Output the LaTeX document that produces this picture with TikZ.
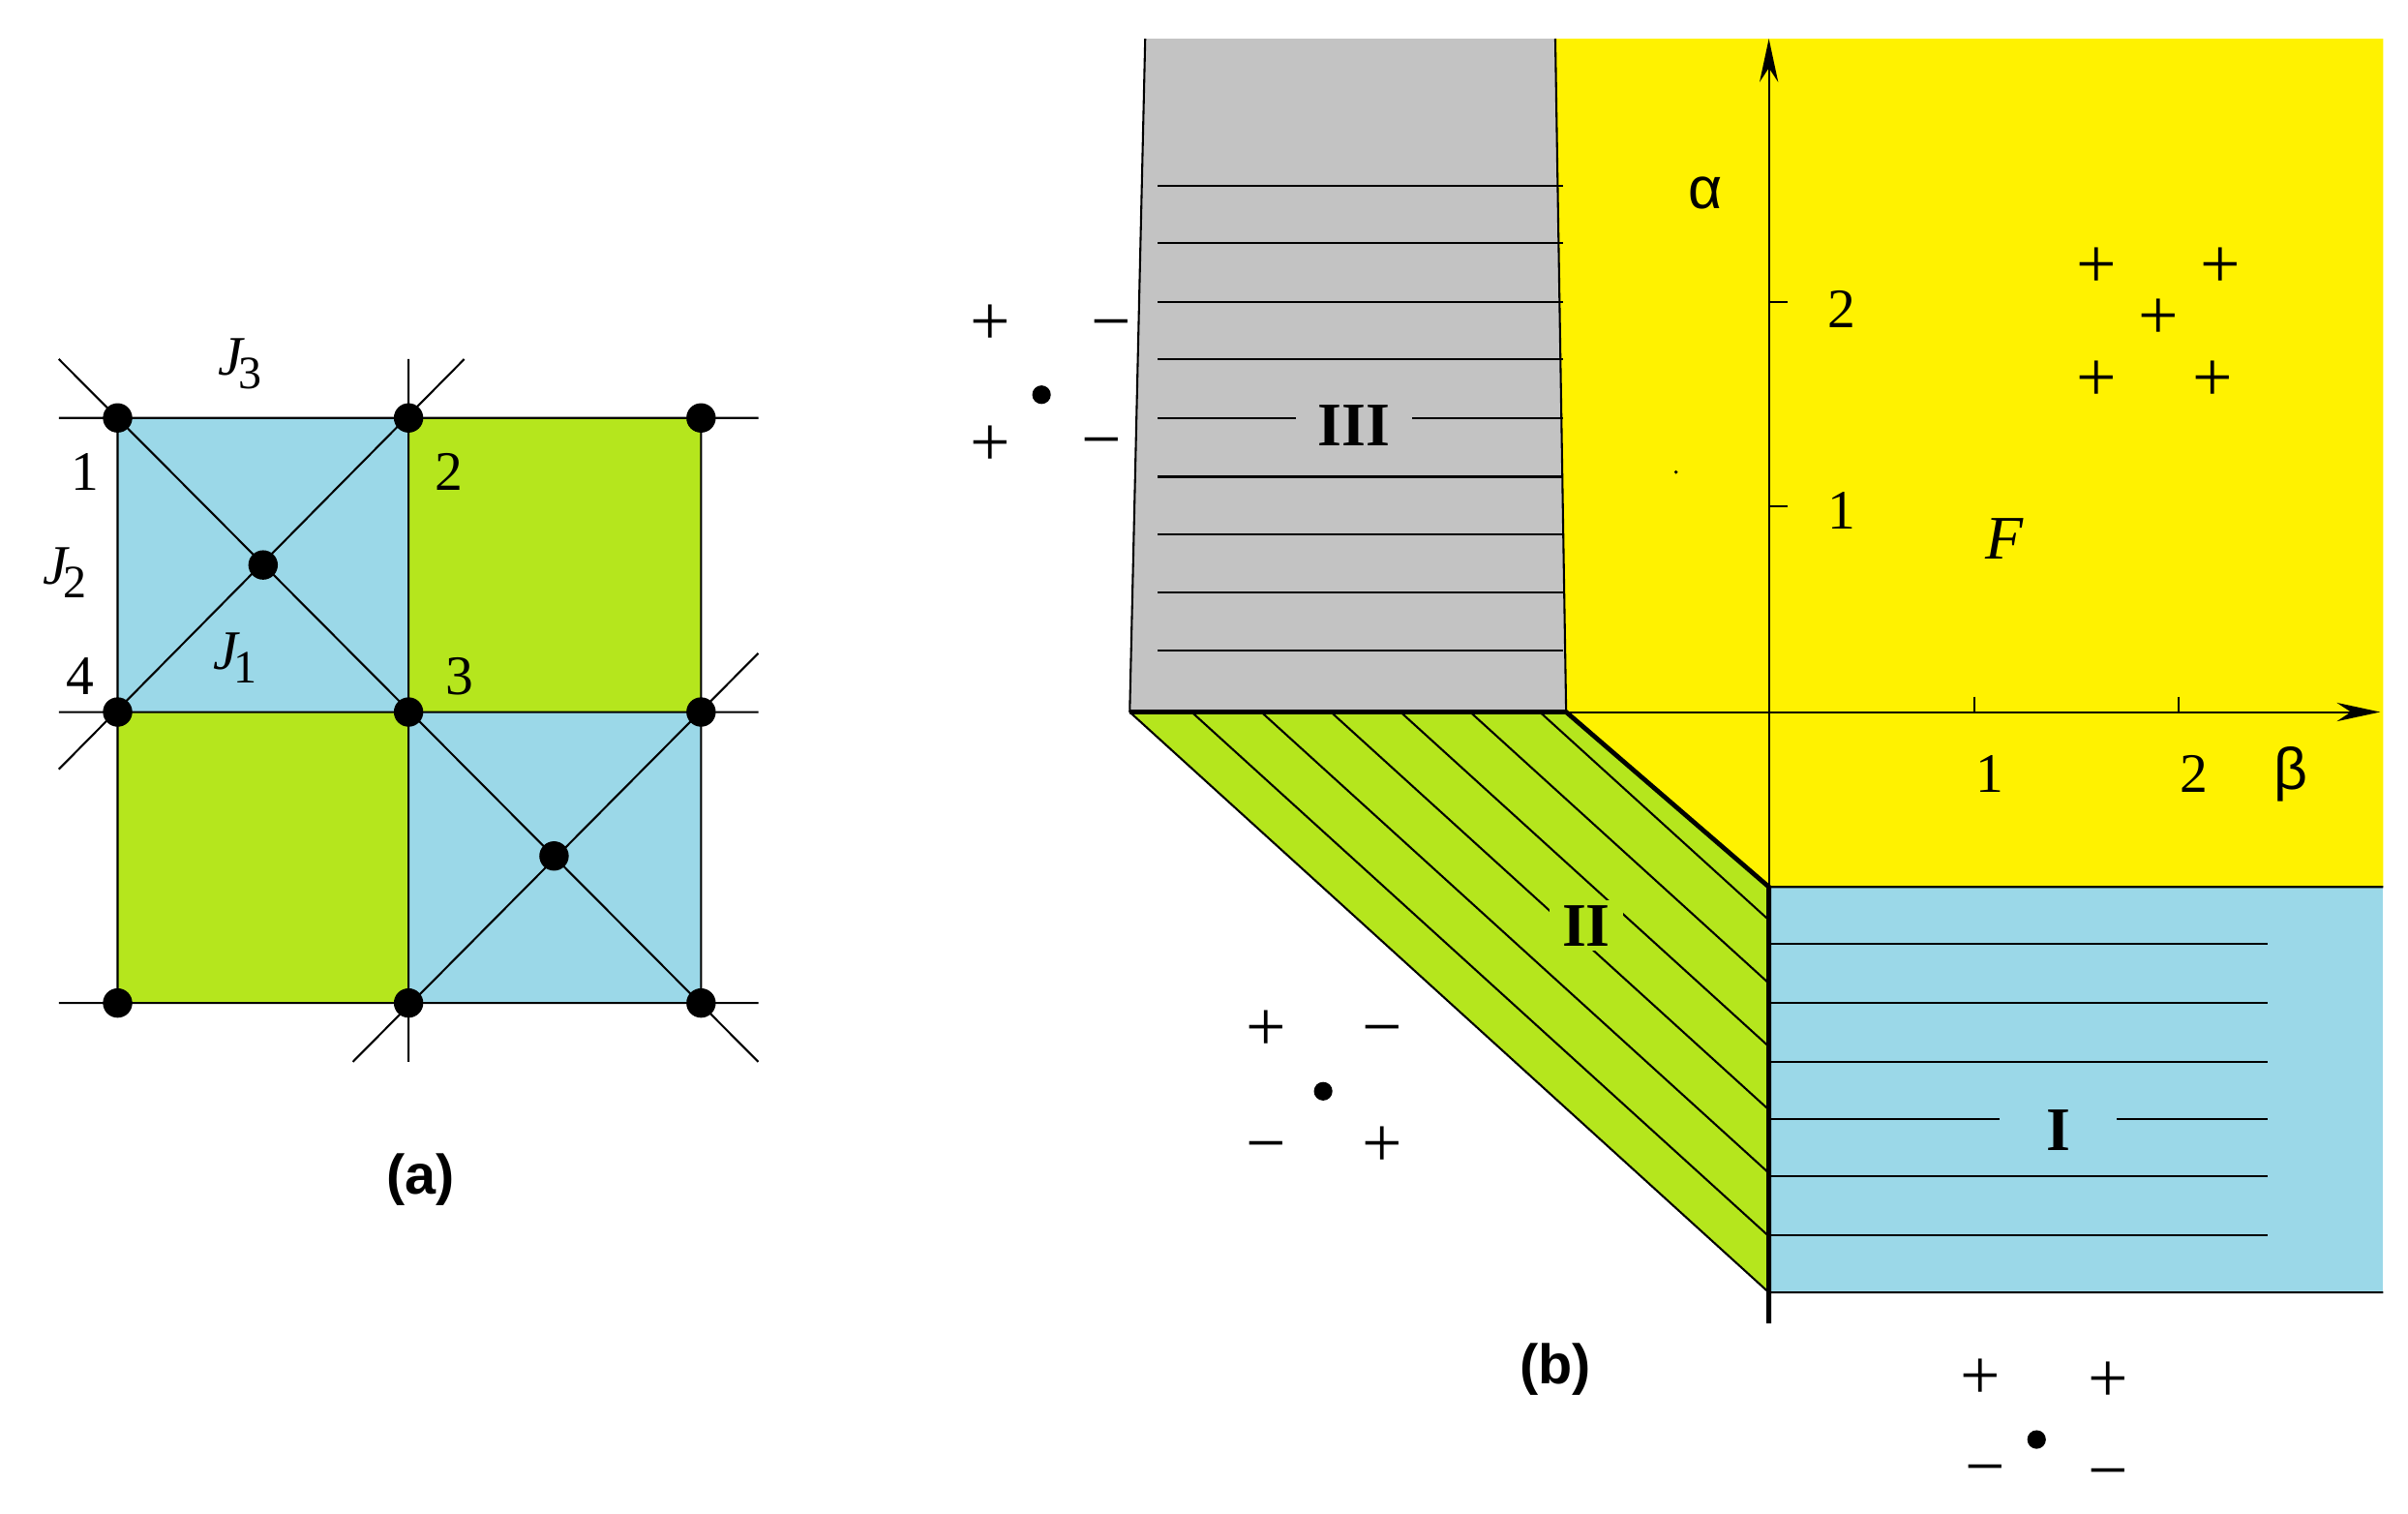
\documentclass[tikz,border=0pt]{standalone}
\usepackage{fontspec}
\usetikzlibrary{arrows.meta}
\setmainfont{Liberation Serif}
\newfontfamily\sff{Liberation Sans}
\newcommand{\Jsub}[1]{{\itshape J}\kern-3pt\raisebox{-9pt}{\fontsize{30}{32}\selectfont #1}}
\begin{document}
\begin{tikzpicture}[x=1pt,y=-1pt,
 lab/.style={font=\fontsize{36}{38}\selectfont,inner sep=0},
 pm/.style={font=\fontsize{46}{48}\selectfont,inner sep=0,text height=22pt,text depth=-4pt},
 big/.style={font=\fontsize{40}{42}\selectfont\bfseries,inner sep=3,fill=#1},
 sub/.style={font=\sff\fontsize{36}{38}\selectfont\bfseries,inner sep=0},
 dot/.style={circle,fill=black,inner sep=0,minimum size=19},
 sdot/.style={circle,fill=black,inner sep=0,minimum size=12},
 thin/.style={line width=1.3},
 thick2/.style={line width=3},
 ax/.style={thin,-{Stealth[length=28,width=12]}}]
\useasboundingbox (0,0) rectangle (1556,978);
\definecolor{cb}{RGB}{155,216,232}\definecolor{cg}{RGB}{181,230,29}
\definecolor{cy}{RGB}{255,242,0}\definecolor{cgr}{RGB}{195,195,195}
% panel a
\fill[cb] (76,270) rectangle (264,460); \fill[cb] (264,460) rectangle (453,648);
\fill[cg] (264,270) rectangle (453,460); \fill[cg] (76,460) rectangle (264,648);
\draw[thin] (38,270)--(490,270) (38,460)--(490,460) (38,648)--(490,648)
 (76,270)--(76,648) (264,232)--(264,686) (453,270)--(453,648)
 (38,232)--(490,686) (300,232)--(38,497) (490,422)--(228,686);
\foreach \x in {76,264,453}\foreach \y in {270,460,648}\node[dot] at (\x,\y){};
\node[dot] at (170,365){}; \node[dot] at (358,553){};
\node[lab] at (155,235){\Jsub{3}}; \node[lab] at (55,305){1};
\node[lab] at (42,370){\Jsub{2}}; \node[lab] at (52,437){4};
\node[lab] at (152,425){\Jsub{1}}; \node[lab] at (290,305){2}; \node[lab] at (297,437){3};
\node[sub] at (272,762){(a)};
% panel b regions
\fill[cy] (1005,25)--(1540,25)--(1540,573)--(1143,573)--(1012,460)--cycle;
\fill[cgr] (740,25)--(1005,25)--(1012,460)--(730,460)--cycle;
\fill[cg] (730,460)--(1012,460)--(1143,573)--(1143,835)--cycle;
\fill[cb] (1143,573) rectangle (1540,835);
\draw[thin] (740,25)--(730,460) (1005,25)--(1012,460);
\foreach \y in {120,157,195,232,270,308,345,383,420}\draw[thin](748,\y)--(1010,\y);
\begin{scope}
\clip (730,460)--(1012,460)--(1143,573)--(1143,835)--cycle;
\foreach \s in {770,815,860,905,950,995,1040,1085,1130}\draw[thin] (\s,460)--++(500,454);
\end{scope}
\foreach \y in {610,648,686,723,760,798}\draw[thin](1143,\y)--(1465,\y);
\draw[thin] (730,460)--(1143,835) (1143,573)--(1540,573) (1143,835)--(1540,835);
\draw[thick2] (730,460)--(1012,460)--(1143,573)--(1143,855);
\draw[ax] (1012,460)--(1538,460);
\draw[ax] (1143,573)--(1143,25);
\foreach \x in {1276,1408}\draw[thin](\x,450)--(\x,460);
\foreach \y in {195,327}\draw[thin](1143,\y)--(1155,\y);
\node[big=cgr,inner xsep=14] at (875,275){III};
\node[big=cg,inner xsep=8] at (1025,598){II};
\node[big=cb,inner xsep=30] at (1330,730){I};
\node[lab,font=\sff\fontsize{38}{40}\selectfont] at (1102,125){α};
\node[lab,font=\sff\fontsize{38}{40}\selectfont] at (1480,500){β};
\node[lab,font=\fontsize{40}{42}\selectfont\itshape] at (1295,348){F};
\node[lab] at (1190,330){1}; \node[lab] at (1190,200){2};
\node[lab] at (1286,500){1}; \node[lab] at (1418,500){2};
\foreach \p in {(1355,175),(1435,175),(1395,208),(1355,248),(1430,248),(640,212),(640,290),(818,668),(893,743),(1280,893),(1362,895)}\node[pm] at \p{+};
\foreach \p in {(718,212),(712,288),(893,668),(818,743),(1283,952),(1362,954)}\node[pm] at \p{−};
\node[sdot] at (673,255){}; \node[sdot] at (855,705){}; \node[sdot] at (1316,930){};
\fill (1083,305) circle (1.2);
\node[sub] at (1005,885){(b)};
\end{tikzpicture}
\end{document}
